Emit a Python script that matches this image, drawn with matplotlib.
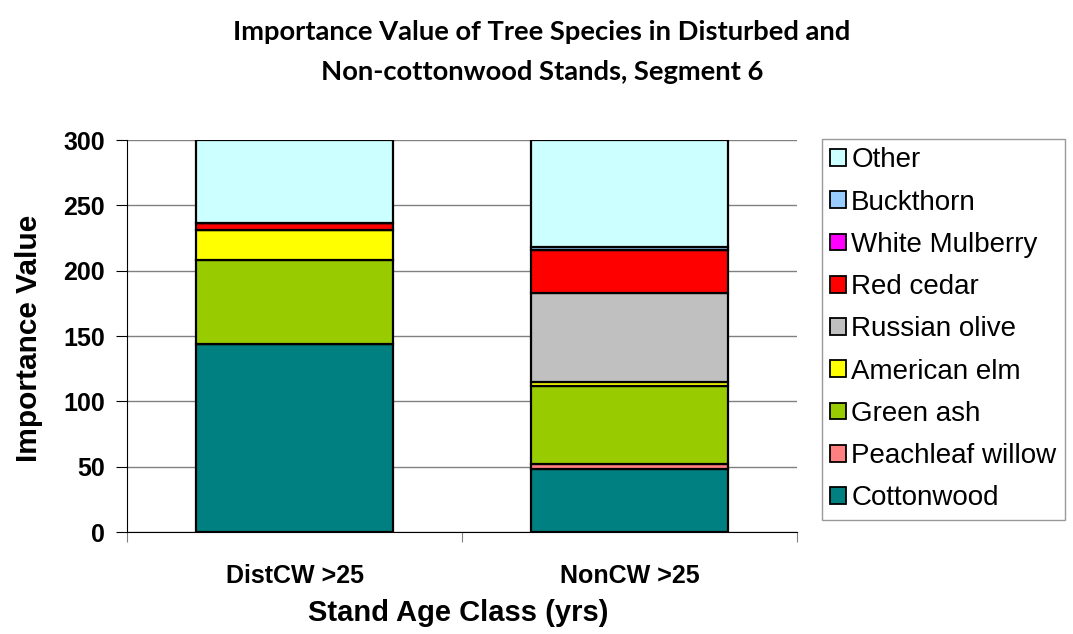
import matplotlib
matplotlib.use("Agg")
import matplotlib.pyplot as plt
from matplotlib.patches import Patch
import numpy as np

categories = ["DistCW >25", "NonCW >25"]
species = ["Cottonwood", "Peachleaf willow", "Green ash", "American elm",
           "Russian olive", "Red cedar", "White Mulberry", "Buckthorn", "Other"]
cottonwood = [144, 48]
peachleaf_willow = [0, 4]
green_ash = [64.5, 60]
american_elm = [23, 3]
russian_olive = [0, 68]
red_cedar = [5, 33]
white_mulberry = [0, 0]
buckthorn = [0, 2]
other = [63.5, 82]
series = [cottonwood, peachleaf_willow, green_ash, american_elm, russian_olive,
          red_cedar, white_mulberry, buckthorn, other]
colors = ["#008080", "#FF8080", "#99CC00", "#FFFF00", "#C0C0C0",
          "#FF0000", "#FF00FF", "#99CCFF", "#CCFFFF"]
y_ticks = [0, 50, 100, 150, 200, 250, 300]

W, H = 1073, 634
fig = plt.figure(figsize=(W / 100, H / 100), dpi=100)
ax = fig.add_axes([127 / W, (H - 532) / H, 670 / W, 392 / H])

x = np.arange(len(categories))
bottom = np.zeros(len(categories))
for vals, col in zip(series, colors):
    v = np.array(vals, dtype=float)
    ax.bar(x, v, bottom=bottom, width=0.59, color=col, edgecolor="black",
           linewidth=1.6, zorder=3)
    bottom += v

ax.set_xlim(-0.5, 1.5)
ax.set_ylim(0, 300)
ax.set_yticks(y_ticks)
ax.set_yticklabels([str(t) for t in y_ticks], fontsize=18, fontweight="bold",
                   family="Liberation Sans")
ax.set_xticks([-0.5, 0.5, 1.5])
ax.set_xticklabels([])
ax.set_xticks(x, minor=True)
ax.set_xticklabels(categories, minor=True, fontsize=18, fontweight="bold",
                   family="Liberation Sans")
ax.tick_params(axis="x", which="minor", length=0, pad=23)
ax.tick_params(axis="x", which="major", length=7, color="#808080", direction="out")
ax.tick_params(axis="y", length=8, direction="out", pad=8)
ax.grid(axis="y", color="#808080", linewidth=1.0, zorder=0)
for s in ["top", "right"]:
    ax.spines[s].set_visible(False)

fig.text(29 / W, (H - 338) / H, "Importance Value", rotation=90, ha="center",
         va="center", fontsize=21.5, fontweight="bold", family="Liberation Sans")
fig.text(458 / W, (H - 613) / H, "Stand Age Class (yrs)", ha="center",
         va="center", fontsize=21, fontweight="bold", family="Liberation Sans")

fig.text(542 / W, (H - 32) / H, "Importance Value of Tree Species in Disturbed and",
         ha="center", va="center", fontsize=19.7, fontweight="bold", family="Lato")
fig.text(542 / W, (H - 72) / H, "Non-cottonwood Stands, Segment 6",
         ha="center", va="center", fontsize=19.7, fontweight="bold", family="Lato")

handles = [Patch(facecolor=c, edgecolor="black", linewidth=1.3, label=s)
           for s, c in zip(species, colors)][::-1]
leg = fig.legend(handles=handles, loc="upper left",
                 bbox_to_anchor=(822 / W, (H - 139) / H),
                 frameon=True, fancybox=False, edgecolor="#808080",
                 prop={"family": "Liberation Sans", "size": 20},
                 handlelength=0.55, handleheight=0.55, handletextpad=0.2,
                 labelspacing=0.585, borderpad=0.3, borderaxespad=0)
leg.get_frame().set_linewidth(1.0)

fig.savefig("out.png", dpi=100)
